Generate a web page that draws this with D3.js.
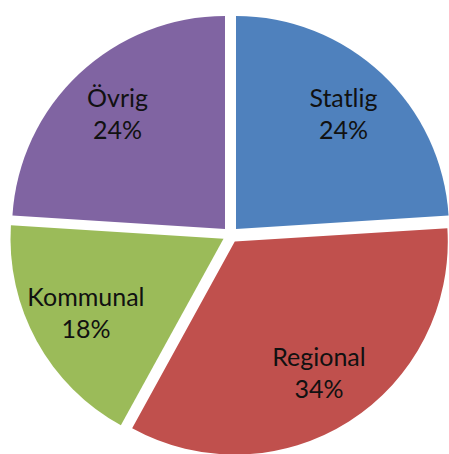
<!DOCTYPE html>
<html>
<head>
<meta charset="utf-8">
<script src="https://cdn.jsdelivr.net/npm/d3@7"></script>
<style>
  html, body { margin: 0; padding: 0; background: #fff; }
  svg { display: block; }
  .label { font-family: Lato, "Open Sans", sans-serif; font-size: 25px; fill: #111; }
</style>
</head>
<body>
<svg></svg>
<script>
let width = 449
let height = 454

// data
let categories = ['Statlig', 'Regional', 'Kommunal', 'Övrig']
let shares = [24, 34, 18, 24]
let colors = ['#4f81bd', '#c0504d', '#9bbb59', '#8064a2']

let cx = 230.5
let cy = 234.8
let radius = 213
let explode = 8
let labelRadius = 157
let lineGap = 32

let svg = d3.select('svg')
    .attr('width', width)
    .attr('height', height)

let slices = d3.pie()
    .sort(null)
    .value(d => d)(shares)

let arc = d3.arc()
    .innerRadius(0)
    .outerRadius(radius)

function midAngle(d) {
    return (d.startAngle + d.endAngle) / 2
}

let sliceGroup = svg.append('g')
    .attr('transform', `translate(${cx},${cy})`)

let sliceEnter = sliceGroup.selectAll('g')
    .data(slices).enter()
    .append('g')
    .attr('transform', d => {
        let a = midAngle(d)
        return `translate(${Math.sin(a) * explode},${-Math.cos(a) * explode})`
    })

sliceEnter.append('path')
    .attr('d', arc)
    .attr('fill', (d, i) => colors[i])

let labels = sliceEnter.append('text')
    .attr('class', 'label')
    .attr('text-anchor', 'middle')
    .attr('transform', d => {
        let a = midAngle(d)
        return `translate(${Math.sin(a) * labelRadius},${-Math.cos(a) * labelRadius})`
    })

labels.append('tspan')
    .attr('x', 0)
    .attr('y', -lineGap / 2 + 8)
    .text((d, i) => categories[i])

labels.append('tspan')
    .attr('x', 0)
    .attr('y', lineGap / 2 + 8)
    .text(d => `${d.data}%`)
</script>
</body>
</html>
